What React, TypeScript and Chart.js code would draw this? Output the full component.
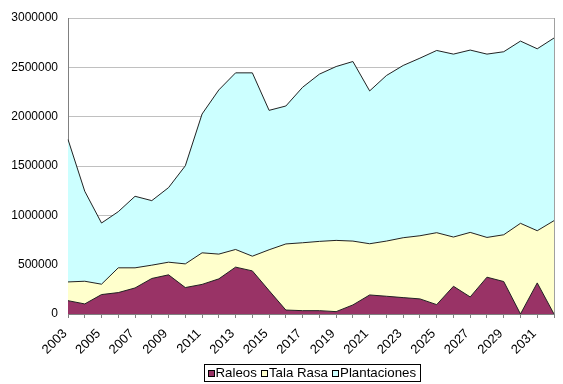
import React, { useEffect, useRef } from 'react';
import { Chart, registerables } from 'chart.js';

Chart.register(...registerables);

const years = [
  '2003', '2004', '2005', '2006', '2007', '2008', '2009', '2010', '2011', '2012',
  '2013', '2014', '2015', '2016', '2017', '2018', '2019', '2020', '2021', '2022',
  '2023', '2024', '2025', '2026', '2027', '2028', '2029', '2030', '2031', '2032',
];

const raleos = [
  135000, 102000, 197000, 217000, 264000, 360000, 397000, 268000, 300000, 356000,
  475000, 437000, 237000, 40000, 34000, 34000, 24000, 92000, 193000, 180000,
  166000, 153000, 95000, 281000, 173000, 373000, 329000, 0, 315000, 0,
];

const talaRasa = [
  190000, 230000, 105000, 251000, 204000, 135000, 128000, 240000, 320000, 251000,
  179000, 149000, 414000, 670000, 688000, 702000, 722000, 647000, 519000, 559000,
  607000, 640000, 729000, 499000, 654000, 403000, 474000, 919000, 529000, 946000,
];

const plantaciones = [
  1444000, 912000, 620000, 569000, 725000, 654000, 756000, 994000, 1407000, 1664000,
  1790000, 1858000, 1413000, 1398000, 1576000, 1695000, 1762000, 1820000, 1549000, 1678000,
  1746000, 1800000, 1847000, 1854000, 1848000, 1858000, 1855000, 1847000, 1844000, 1851000,
];

const seriesNames = ['Raleos', 'Tala Rasa', 'Plantaciones'];
const seriesColors = ['#993366', '#FFFFCC', '#CCFFFF'];
const yMin = 0;
const yMax = 3000000;
const yStep = 500000;

const FONT = '"Liberation Sans", Arial, Helvetica, sans-serif';

const plotBorderPlugin = {
  id: 'plotBorder',
  beforeDatasetsDraw(chart: any) {
    const { ctx, chartArea } = chart;
    ctx.save();
    ctx.strokeStyle = '#a0a0a0';
    ctx.lineWidth = 1;
    ctx.beginPath();
    const x = Math.round(chartArea.right) + 0.5;
    ctx.moveTo(x, chartArea.top);
    ctx.lineTo(x, chartArea.bottom);
    ctx.stroke();
    ctx.restore();
  },
};

const boxLegendPlugin = {
  id: 'boxLegend',
  afterDraw(chart: any) {
    const { ctx, chartArea } = chart;
    ctx.save();
    ctx.font = `13.3px ${FONT}`;
    const box = 6;
    const gapBoxText = 2;
    const gapItem = 4;
    const padL = 3;
    const padR = 4;
    const widths = seriesNames.map((n) => ctx.measureText(n).width);
    const total =
      widths.reduce((a, w) => a + box + gapBoxText + w, 0) +
      gapItem * (seriesNames.length - 1) +
      padL + padR;
    const cx = (chartArea.left + chartArea.right) / 2 + 1;
    const x0 = Math.round(cx - total / 2) + 0.5;
    const top = Math.round(chartArea.bottom) + 50 + 0.5;
    const h = 17;
    ctx.strokeStyle = '#000';
    ctx.lineWidth = 1;
    ctx.strokeRect(x0, top, Math.round(total), h);
    let x = x0 + padL;
    const midY = top + h / 2;
    seriesNames.forEach((n, i) => {
      const bx = Math.round(x) + 0.5;
      const by = Math.round(midY - box / 2) + 0.5;
      ctx.fillStyle = seriesColors[i];
      ctx.fillRect(bx, by, box, box);
      ctx.strokeStyle = '#000';
      ctx.strokeRect(bx, by, box, box);
      x += box + gapBoxText;
      ctx.fillStyle = '#000';
      ctx.textBaseline = 'middle';
      ctx.textAlign = 'left';
      ctx.fillText(n, x, midY + 0.5);
      x += widths[i] + gapItem;
    });
    ctx.restore();
  },
};

export default function App() {
  const canvasRef = useRef<HTMLCanvasElement | null>(null);

  useEffect(() => {
    const canvas = canvasRef.current;
    if (!canvas) return;
    const values = [raleos, talaRasa, plantaciones];
    const chart = new Chart(canvas, {
      type: 'line',
      data: {
        labels: years,
        datasets: seriesNames.map((name, i) => ({
          label: name,
          data: values[i],
          backgroundColor: seriesColors[i],
          borderColor: '#222222',
          borderWidth: 1,
          pointRadius: 0,
          pointHoverRadius: 0,
          tension: 0,
          fill: i === 0 ? 'origin' : '-1',
        })),
      },
      options: {
        animation: false,
        responsive: false,
        devicePixelRatio: 1,
        layout: { padding: { left: 0, right: 9, top: 18, bottom: 30 } },
        plugins: {
          legend: { display: false },
          tooltip: { enabled: false },
        },
        scales: {
          x: {
            offset: false,
            grid: {
              display: true,
              drawOnChartArea: false,
              drawTicks: true,
              tickLength: 4,
              color: '#808080',
            },
            border: { display: true, color: '#808080' },
            ticks: {
              autoSkip: false,
              maxRotation: 45,
              minRotation: 45,
              padding: 8,
              labelOffset: -3,
              color: '#000',
              font: { family: FONT, size: 13 },
              callback: (_v: any, idx: number) => (idx % 2 === 0 ? years[idx] : ''),
            },
            afterFit: (scale: any) => {
              scale.height = 40;
              scale.paddingLeft = 0;
              scale.paddingRight = 0;
            },
          },
          y: {
            stacked: true,
            min: yMin,
            max: yMax,
            grid: {
              color: '#c0c0c0',
              drawTicks: false,
            },
            border: { display: true, color: '#808080' },
            ticks: {
              stepSize: yStep,
              padding: 10,
              color: '#000',
              font: { family: FONT, size: 12 },
              callback: (v: any) => String(v),
            },
            afterFit: (scale: any) => {
              scale.width = 68;
            },
          },
        },
      },
      plugins: [plotBorderPlugin, boxLegendPlugin],
    });
    return () => chart.destroy();
  }, []);

  return (
    <div style={{ position: 'fixed', left: 0, top: 0, width: 563, height: 384, background: '#fff' }}>
      <canvas ref={canvasRef} width={563} height={384} />
    </div>
  );
}
